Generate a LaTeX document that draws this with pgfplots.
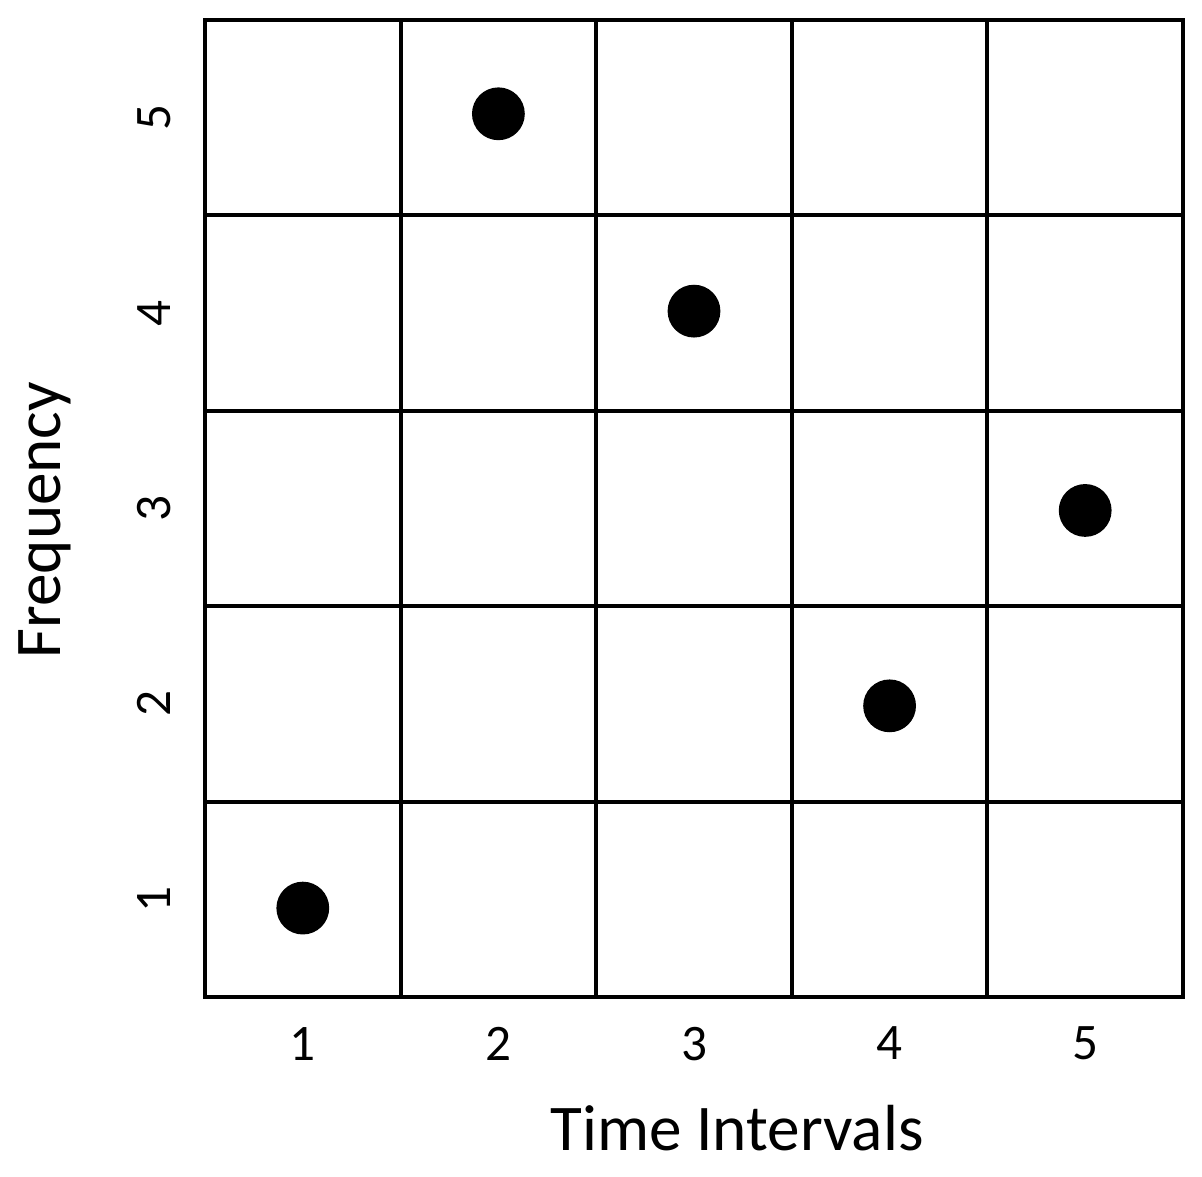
\documentclass[border=0pt]{standalone}
\usepackage{fontspec}
\setmainfont{Carlito}
\usepackage{pgfplots}
\pgfplotsset{compat=1.18}

\begin{document}
\begin{tikzpicture}
\begin{axis}[
  name=ax,
  scale only axis,
  width=244.5pt, height=244.25pt,
  xmin=0.5, xmax=5.5, ymin=0.5, ymax=5.5,
  xtick={1,2,3,4,5}, ytick={1,2,3,4,5},
  minor xtick={1.5,2.5,3.5,4.5}, minor ytick={1.5,2.5,3.5,4.5},
  minor grid style={black, line width=1pt},
  xminorgrids, yminorgrids,
  major tick length=0pt, minor tick length=0pt,
  axis line style={line width=1pt},
  tick label style={font=\fontsize{12.8}{14}\selectfont},
  /pgf/number format/assume math mode=true,
  yticklabel style={rotate=90, anchor=south},
  yticklabel shift=5pt,
  xticklabel style={yshift=-4pt},
  xlabel={Time Intervals},
  ylabel={Frequency},
  xlabel style={at={(axis description cs:0.544,-0.134)}, anchor=center,
    font=\fontsize{16.3}{19}\selectfont},
  ylabel style={at={(axis description cs:-0.164,0.488)}, anchor=center,
    font=\fontsize{16.3}{19}\selectfont},
]
\addplot[only marks, mark=*, mark size=6.4pt, black] coordinates {
  (1,0.955) (2,5.02) (3,4.01) (4,1.99) (5,2.99)};
\end{axis}
\pgfresetboundingbox
\path ([shift={(-51.25pt,-45pt)}]ax.south west) rectangle ([shift={(4.75pt,5pt)}]ax.north east);
\end{tikzpicture}
\end{document}
